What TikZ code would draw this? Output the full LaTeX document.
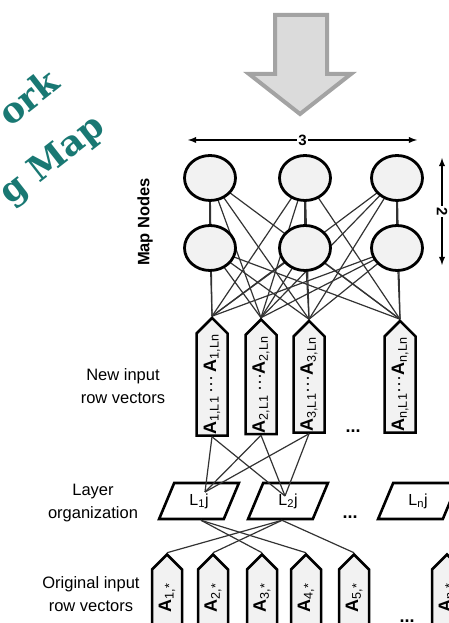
\documentclass[tikz,border=0pt]{standalone}
\usepackage{fontspec}
\setmainfont{Liberation Sans}
\setsansfont{Liberation Sans}
\newfontfamily\titleFont{DejaVu Serif}
\usetikzlibrary{shapes, backgrounds, arrows, positioning}

\definecolor{titleColor}{rgb}{0.10,0.47,0.45}
\definecolor{boxFill}{rgb}{0.95,0.95,0.95}
\definecolor{arrowFill}{rgb}{0.86,0.86,0.86}
\definecolor{arrowDraw}{rgb}{0.64,0.64,0.64}
\definecolor{linkColor}{rgb}{0.20,0.20,0.20}

\tikzset{
  mapNode/.style={ellipse, draw=black, line width=2.8pt, fill=boxFill,
    minimum width=51pt, minimum height=45pt, inner sep=0pt},
  rowVec/.style={signal, signal to=east, rotate=90, draw=black, line width=2.5pt,
    fill=boxFill, minimum height=31pt, inner sep=1pt, anchor=center,
    font=\fontsize{18}{18}\selectfont},
  layerBox/.style={trapezium, trapezium left angle=70, trapezium right angle=110,
    trapezium stretches=true, draw=black, line width=2.6pt,
    minimum width=80pt, minimum height=36pt, font=\fontsize{16}{16}\selectfont},
  sideLabel/.style={align=center, font=\fontsize{16.5}{23}\selectfont},
  headLabel/.style={rotate=38, text=titleColor,
    font=\titleFont\bfseries\fontsize{35}{35}\selectfont},
  dotsLabel/.style={font=\bfseries\fontsize{18}{18}\selectfont},
  dimLine/.style={line width=1.8pt, latex-latex},
  link/.style={draw=linkColor, line width=1.2pt},
}

\begin{document}
\begin{tikzpicture}[x=1pt,y=1pt]
\path[use as bounding box] (0,0) rectangle (449,623);
\clip (0,0) rectangle (449,623);

% heading, rotated
\node[headLabel] (headA) at (28,526) {ork};
\node[headLabel] (headB) at (53,462) {g Map};

% big down arrow
\path[draw=arrowDraw, line width=4pt, fill=arrowFill, line join=miter]
  (275,608) -- (327,608) -- (327,549) -- (351,549) -- (300,509) --
  (249,549) -- (275,549) -- cycle;

% map nodes 3 x 2
\node[mapNode] (m11) at (210,445) {};
\node[mapNode] (m12) at (305,445) {};
\node[mapNode] (m13) at (397,445) {};
\node[mapNode] (m21) at (210,375) {};
\node[mapNode] (m22) at (305,375) {};
\node[mapNode] (m23) at (397,375) {};

\node[rotate=90, font=\bfseries\fontsize{16.5}{16.5}\selectfont] (mapLabel) at (145,401) {Map Nodes};

% size of the map
\coordinate (dimW) at (188,483);
\coordinate (dimE) at (417,483);
\draw[dimLine] (dimW) -- node[fill=white, inner sep=1pt, font=\bfseries\fontsize{15}{15}\selectfont] (dimThree) {3} (dimE);
\coordinate (dimN) at (442,465);
\coordinate (dimS) at (442,358);
\draw[dimLine] (dimN) -- node[fill=white, inner sep=1pt, rotate=-90, font=\bfseries\fontsize{15}{15}\selectfont] (dimTwo) {2} (dimS);

% new input row vectors
\node[rowVec, minimum width=102pt] (v1) at (212,238.5) {\textbf{A}\textsubscript{1,L1}\,···\,\textbf{A}\textsubscript{1,Ln}};
\node[rowVec, minimum width=102pt] (v2) at (261,238.5) {\textbf{A}\textsubscript{2,L1}\,···\textbf{A}\textsubscript{2,Ln}};
\node[rowVec, minimum width=102pt] (v3) at (309,238.5) {\textbf{A}\textsubscript{3,L1}···\textbf{A}\textsubscript{3,Ln}};
\node[rowVec, minimum width=102pt] (v4) at (400,238.5) {\textbf{A}\textsubscript{n,L1}···\textbf{A}\textsubscript{n,Ln}};
\node[dotsLabel] (vDots) at (353,192) {...};

\begin{scope}[on background layer]
\foreach \m in {m11,m12,m13,m21,m22,m23}
  \foreach \v in {v1,v2,v3,v4}
    \draw[link] (\m.center) -- (\v.east);
\draw[link] (m11) -- (m21);
\draw[link] (m12) -- (m22);
\draw[link] (m13) -- (m23);
\end{scope}

% layer organization
\node[layerBox] (l1) at (199,122) {L\textsubscript{1}j};
\node[layerBox] (l2) at (288,122) {L\textsubscript{2}j};
\node[layerBox] (ln) at (418,122) {L\textsubscript{n}j};
\node[dotsLabel] (lDots) at (350,106) {...};
\coordinate (l1top) at ([shift={(6,9)}]l1.center);
\coordinate (l2top) at ([shift={(-3,5)}]l2.center);
\coordinate (l1bot) at ([shift={(2,0)}]l1.south);
\coordinate (l2bot) at ([shift={(-6,0)}]l2.south);

\foreach \v in {v1,v2,v3} {
  \draw[link] (\v.west) -- (l1top);
  \draw[link] (\v.west) -- (l2top);
}

% original input row vectors
\node[rowVec, minimum width=72pt, minimum height=30pt] (o1) at (167,25) {\textbf{A}\textsubscript{1,*}};
\node[rowVec, minimum width=72pt, minimum height=30pt] (o2) at (213,25) {\textbf{A}\textsubscript{2,*}};
\node[rowVec, minimum width=72pt, minimum height=30pt] (o3) at (262,25) {\textbf{A}\textsubscript{3,*}};
\node[rowVec, minimum width=72pt, minimum height=30pt] (o4) at (306,25) {\textbf{A}\textsubscript{4,*}};
\node[rowVec, minimum width=72pt, minimum height=30pt] (o5) at (354,25) {\textbf{A}\textsubscript{5,*}};
\node[rowVec, minimum width=72pt, minimum height=30pt] (o6) at (447,25) {\textbf{A}\textsubscript{n,*}};
\node[dotsLabel] (oDots) at (407,2) {...};

\draw[link] (l1bot) -- (o3.east);
\draw[link] (l1bot) -- (o4.east);
\draw[link] (l2bot) -- (o1.east);
\draw[link] (l2bot) -- (o2.east);
\draw[link] (l2bot) -- (o5.east);

% row labels
\node[sideLabel] (newLabel) at (123,237) {New input\\row vectors};
\node[sideLabel] (layerLabel) at (93,120) {Layer\\organization};
\node[sideLabel] (origLabel) at (91,29) {Original input\\row vectors};
\end{tikzpicture}
\end{document}
